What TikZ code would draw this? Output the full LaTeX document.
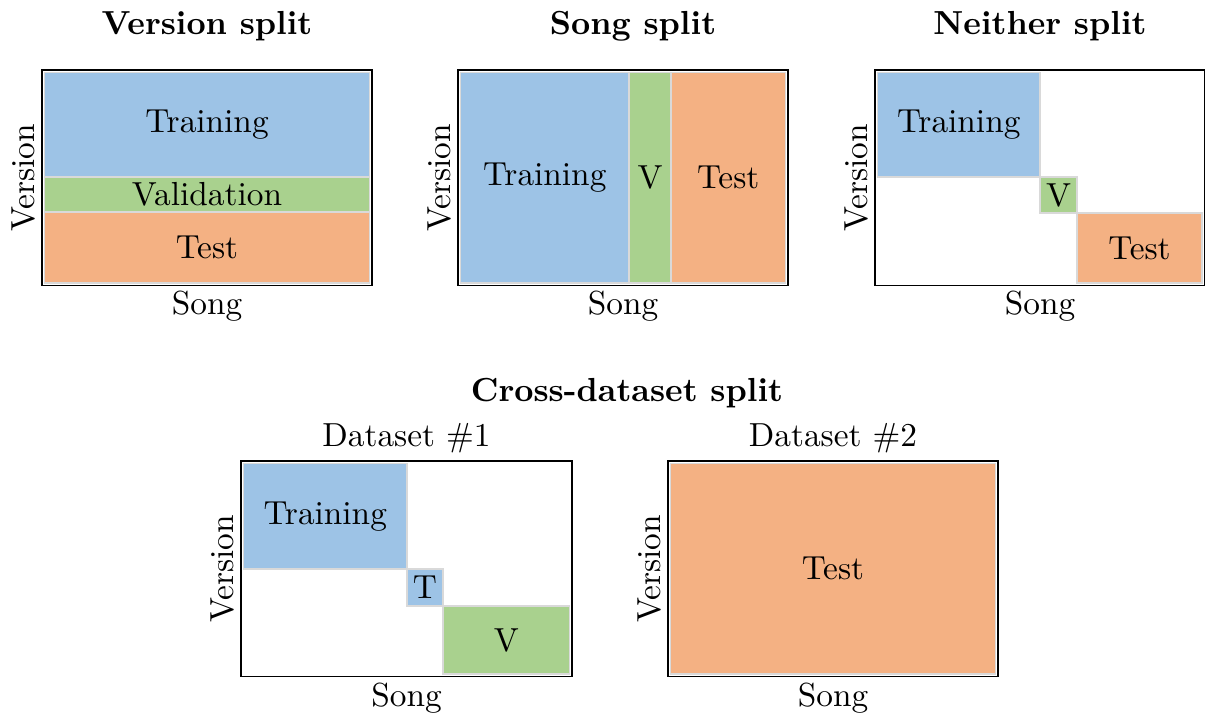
\documentclass[tikz,border=0pt]{standalone}
\usepackage{amssymb}
\usepackage{amsmath}
\definecolor{trainblue}{RGB}{157,195,230}
\definecolor{valgreen}{RGB}{169,209,142}
\definecolor{testorange}{RGB}{244,177,131}
\tikzset{
	frame/.style={draw=black, line width=0.45pt},
	part/.style={draw=black!15, line width=0.35pt},
	trainpart/.style={part, fill=trainblue},
	valpart/.style={part, fill=valgreen},
	testpart/.style={part, fill=testorange},
	splittitle/.style={font=\bfseries, anchor=base, inner sep=0pt},
	subtitle/.style={anchor=base, inner sep=0pt},
	songlabel/.style={anchor=north, inner sep=1.6pt},
	versionlabel/.style={rotate=90, anchor=south, inner sep=1.8pt}
}

\begin{document}
\begin{tikzpicture}[x=0.3pt,y=0.3pt,yscale=-1,xscale=1]
\useasboundingbox (0,0) rectangle (1206,713);

% version split
\draw[trainpart] (44.5,72.5) rectangle (369.5,177) node[midway] (vtrain) {Training};
\draw[valpart] (44.5,177) rectangle (369.5,212) node[midway] (vval) {Validation};
\draw[testpart] (44.5,212) rectangle (369.5,283) node[midway] (vtest) {Test};
\draw[frame] (42,70) rectangle (372,285.5);
\node[splittitle] (vtitle) at (207,35) {Version split};
\node[songlabel] (vsong) at (207,285.5) {Song};
\node[versionlabel] (vversion) at (42,178) {Version};

% song split
\draw[trainpart] (460.5,72.5) rectangle (629,283) node[midway] (strain) {Training};
\draw[valpart] (629,72.5) rectangle (671,283) node[midway] (sval) {V};
\draw[testpart] (671,72.5) rectangle (785.5,283) node[midway] (stest) {Test};
\draw[frame] (458,70) rectangle (788,285.5);
\node[splittitle] (stitle) at (633,35) {Song split};
\node[songlabel] (ssong) at (623,285.5) {Song};
\node[versionlabel] (sversion) at (458,178) {Version};

% neither split
\draw[trainpart] (877.5,72.5) rectangle (1040,177) node[midway] (ntrain) {Training};
\draw[valpart] (1040,177) rectangle (1077,213) node[midway] (nval) {V};
\draw[testpart] (1077,213) rectangle (1202,283) node[midway] (ntest) {Test};
\draw[frame] (875,70) rectangle (1204.5,285.5);
\node[splittitle] (ntitle) at (1040,35) {Neither split};
\node[songlabel] (nsong) at (1040,285.5) {Song};
\node[versionlabel] (nversion) at (875,178) {Version};

% cross-dataset split
\node[splittitle] (ctitle) at (627,402) {Cross-dataset split};

\draw[trainpart] (243.5,463.5) rectangle (407,569) node[midway] (atrain) {Training};
\draw[trainpart] (407,569) rectangle (443,606) node[midway] (atest) {T};
\draw[valpart] (443,606) rectangle (569.5,674) node[midway] (aval) {V};
\draw[frame] (241,461) rectangle (572,676.5);
\node[subtitle] (atitle) at (406.5,447) {Dataset \#1};
\node[songlabel] (asong) at (406.5,676.5) {Song};
\node[versionlabel] (aversion) at (241,569) {Version};

\draw[testpart] (670.5,463.5) rectangle (995.5,674) node[midway] (btest) {Test};
\draw[frame] (668,461) rectangle (998,676.5);
\node[subtitle] (btitle) at (833,447) {Dataset \#2};
\node[songlabel] (bsong) at (833,676.5) {Song};
\node[versionlabel] (bversion) at (668,569) {Version};

\end{tikzpicture}
\end{document}
